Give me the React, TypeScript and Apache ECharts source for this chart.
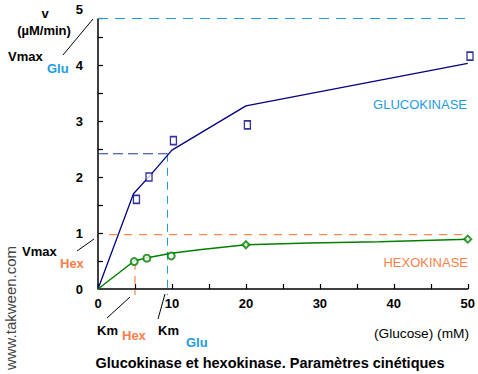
import React, { useEffect, useRef } from 'react';
import * as echarts from 'echarts';

// Glucokinase measured points and fitted curve
const glucokinaseX = [5.2, 6.9, 10.2, 20.2, 50.3];
const glucokinaseV = [1.6, 2.0, 2.65, 2.93, 4.16];
const glucokinaseFitX = [0, 4.8, 7, 10, 20, 50];
const glucokinaseFitV = [0, 1.7, 2.02, 2.48, 3.27, 4.03];
// Hexokinase measured points and fitted curve
const hexokinaseX = [4.9, 6.6, 9.9, 20, 50];
const hexokinaseV = [0.49, 0.55, 0.59, 0.79, 0.89];
const hexokinaseSymbols = ['emptyCircle', 'emptyCircle', 'emptyCircle', 'emptyDiamond', 'emptyDiamond'];
const hexokinaseFitX = [0, 4.9, 6.7, 9.9, 13.7, 20, 28.6, 38, 50];
const hexokinaseFitV = [0, 0.5, 0.56, 0.64, 0.7, 0.79, 0.82, 0.845, 0.89];
// Kinetic parameters
const vmaxGlu = 4.83;
const kmGlu = 9.4;
const vmaxHex = 0.97;
const kmHex = 5;
// Axis
const xMax = 50;
const yMax = 5;
const yMinorTicks = [0.5, 1, 1.5, 2, 2.5, 3, 3.5, 4, 4.5];

const FONT = '"Liberation Sans", Arial, sans-serif';
const NAVY = '#000080';
const GREEN = '#008000';
const LIGHTBLUE = '#1e9be0';
const MIDBLUE = '#1f3aa8';
const ORANGE = '#ff6a1a';
const ORANGE_TEXT = '#f7804a';

export default function App() {
  const ref = useRef<HTMLDivElement>(null);
  useEffect(() => {
    if (!ref.current) return;
    const chart = echarts.init(ref.current, null, { renderer: 'svg' });
    const txt = (size: number, bold = true, color = '#000') => ({
      fontFamily: FONT,
      fontSize: size,
      fontWeight: bold ? 'bold' : 'normal',
      color,
    });
    chart.setOption({
      animation: false,
      backgroundColor: '#fff',
      grid: { left: 98, right: 10, top: 9, bottom: 85, containLabel: false },
      xAxis: {
        type: 'value',
        min: 0,
        max: xMax,
        interval: 5,
        axisLine: { lineStyle: { color: '#000', width: 1.5 } },
        axisTick: { inside: true, length: 5, lineStyle: { color: '#000', width: 1.2 } },
        axisLabel: {
          ...txt(13),
          margin: 8,
          formatter: (v: number) => (v % 10 === 0 ? String(v) : ''),
        },
        splitLine: { show: false },
      },
      yAxis: {
        type: 'value',
        min: 0,
        max: yMax,
        interval: 1,
        axisLine: { show: false },
        axisTick: {
          show: true,
          inside: true,
          length: 5,
          customValues: yMinorTicks,
          lineStyle: { color: '#000', width: 1.2 },
        },
        axisLabel: { ...txt(13), margin: 15 },
        splitLine: { show: false },
      },
      series: [
        {
          type: 'line',
          data: glucokinaseFitX.map((x, i) => [x, glucokinaseFitV[i]]),
          symbol: 'none',
          lineStyle: { color: NAVY, width: 1.3 },
          z: 3,
        },
        {
          type: 'scatter',
          data: glucokinaseX.map((x, i) => [x, glucokinaseV[i]]),
          symbol: 'rect',
          symbolSize: [6, 8],
          clip: false,
          itemStyle: { color: '#fff', borderColor: NAVY, borderWidth: 1.5 },
          z: 4,
        },
        {
          type: 'line',
          data: hexokinaseFitX.map((x, i) => [x, hexokinaseFitV[i]]),
          symbol: 'none',
          lineStyle: { color: GREEN, width: 1.5 },
          z: 3,
        },
        {
          type: 'scatter',
          data: hexokinaseX.map((x, i) => ({ value: [x, hexokinaseV[i]], symbol: hexokinaseSymbols[i] })),
          symbolSize: 7,
          clip: false,
          itemStyle: { color: GREEN, borderWidth: 1.2 },
          z: 4,
        },
      ],
    });

    const p = (x: number, y: number) => chart.convertToPixel({ gridIndex: 0 }, [x, y]) as number[];
    const line = (a: number[], b: number[], color: string, dash?: number[], width = 1) => ({
      type: 'line',
      shape: { x1: a[0], y1: a[1], x2: b[0], y2: b[1] },
      style: { stroke: color, lineWidth: width, lineDash: dash },
      silent: true,
      z: 2,
    });
    const text = (x: number, y: number, s: string, style: any, align = 'left', extra: any = {}) => ({
      type: 'text',
      x,
      y,
      style: {
        text: s,
        fill: style.color,
        font: `${style.fontWeight} ${style.fontSize}px ${FONT}`,
        textAlign: align,
        textVerticalAlign: 'middle',
      },
      silent: true,
      ...extra,
    });

    const origin = p(0, 0);
    const top = p(0, vmaxGlu);
    const kmGluTop = p(kmGlu, vmaxGlu / 2);
    const kmGluBot = p(kmGlu, 0);
    const kmHexTop = p(kmHex, vmaxHex / 2);
    const kmHexBot = p(kmHex, 0);

    chart.setOption({
      graphic: [
        // y axis line ending at the Vmax level
        line(origin, top, '#000', undefined, 1.5),
        line(top, [top[0] + 5, top[1]], '#000', undefined, 1.2),
        // dashed guides
        line(p(0, vmaxGlu), p(xMax + 0.4, vmaxGlu), LIGHTBLUE, [10, 7]),
        line(p(0, vmaxGlu / 2), kmGluTop, MIDBLUE, [10, 5], 1.2),
        line(kmGluTop, [kmGluBot[0], kmGluBot[1] + 6], LIGHTBLUE, [8, 6]),
        line(p(1.5, vmaxHex), p(xMax, vmaxHex), ORANGE, [8, 7]),
        line(kmHexTop, [kmHexBot[0], kmHexBot[1] + 6], ORANGE, [8, 6]),
        // leader lines
        line([63, 55], [93, 19], '#000'),
        line([77, 251], [94, 239], '#000'),
        line([107, 318], [130, 297], '#000'),
        line([158, 319], [165, 294], '#000'),
        // labels
        text(45, 13, 'v', txt(13), 'center'),
        text(44, 30, '(µM/min)', txt(13), 'center'),
        text(8, 56, 'Vmax', txt(13)),
        text(47, 68, 'Glu', txt(13, true, LIGHTBLUE)),
        text(22, 251, 'Vmax', txt(13)),
        text(60, 263, 'Hex', txt(13, true, ORANGE_TEXT)),
        text(97, 330, 'Km', txt(13)),
        text(122, 335, 'Hex', txt(13, true, ORANGE_TEXT)),
        text(158, 330, 'Km', txt(13)),
        text(186, 342, 'Glu', txt(13, true, LIGHTBLUE)),
        text(467, 104, 'GLUCOKINASE', txt(13, false, LIGHTBLUE), 'right'),
        text(468, 262, 'HEXOKINASE', txt(13, false, ORANGE_TEXT), 'right'),
        text(469, 333, '(Glucose) (mM)', txt(13.7, false), 'right'),
        text(270, 363, 'Glucokinase et hexokinase. Paramètres cinétiques', txt(14.5), 'center'),
        text(10, 308, 'www.takween.com', txt(15, false, '#444'), 'center', { rotation: Math.PI / 2 }),
      ],
    });
    return () => chart.dispose();
  }, []);
  return <div ref={ref} style={{ width: 478, height: 374, position: 'absolute', left: 0, top: 0 }} />;
}
